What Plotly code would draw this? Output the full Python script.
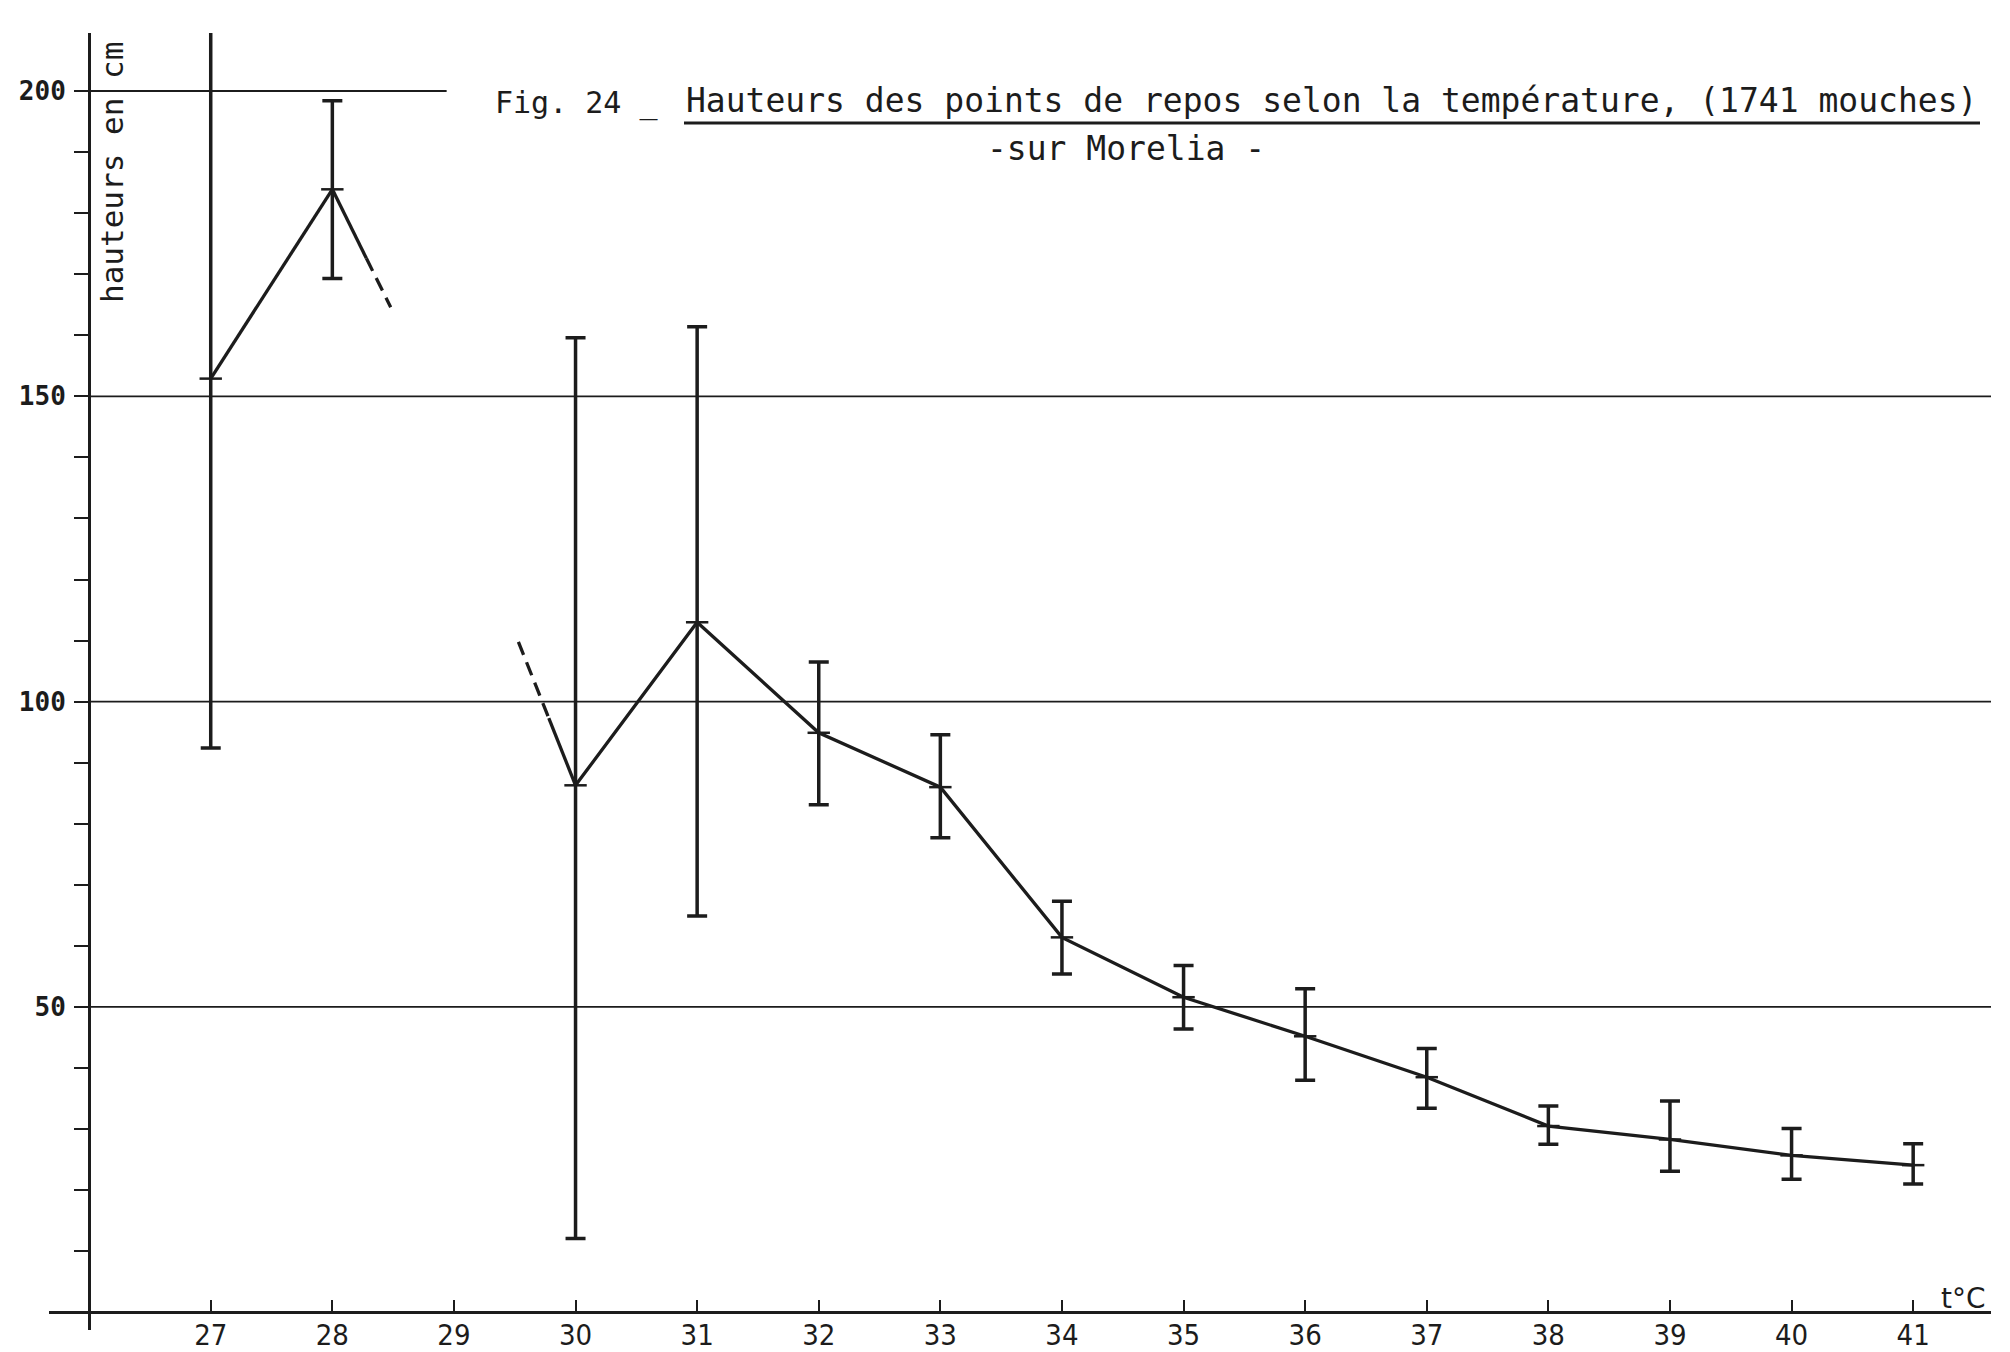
import plotly.graph_objects as go

# ---- data ----
temps = [27, 28, 30, 31, 32, 33, 34, 35, 36, 37, 38, 39, 40, 41]
means = [152.9, 183.9, 86.3, 113.0, 94.9, 86.0, 61.4, 51.6, 45.2, 38.5, 30.5, 28.3, 25.7, 24.1]
err_top = [212.4, 198.4, 159.6, 161.4, 106.5, 94.6, 67.3, 56.8, 53.0, 43.2, 33.8, 34.6, 30.1, 27.6]
err_bottom = [92.4, 169.3, 12.1, 64.9, 83.1, 77.7, 55.4, 46.4, 38.0, 33.4, 27.5, 23.1, 21.8, 21.0]

# interrupted trend stubs around the 29 °C gap
stub_left_x = [28, 28.28, 28.48]
stub_left_y = [183.9, 172.6, 164.6]
stub_right_x = [29.53, 29.78, 30]
stub_right_y = [109.8, 97.3, 86.3]

x_ticks = list(range(27, 42))
y_ticks = list(range(10, 201, 10))
y_labels = [str(v) if v % 50 == 0 else "" for v in y_ticks]
grid_full = [50, 100, 150]
grid_partial = [200]

INK = "#1c1c1c"
W, H = 2010, 1352

err_plus = [t - m for t, m in zip(err_top, means)]
err_minus = [m - b for m, b in zip(means, err_bottom)]

fig = go.Figure()

# error bars + mean ticks
fig.add_trace(go.Scatter(
    x=temps, y=means, mode="markers",
    marker=dict(symbol="line-ew", size=16, line=dict(width=2.5, color=INK), color=INK),
    error_y=dict(type="data", array=err_plus, arrayminus=err_minus,
                 color=INK, thickness=3.5, width=10),
    showlegend=False, hoverinfo="skip"))

LW = 3.3
# curve: first segment (27-28)
fig.add_trace(go.Scatter(x=temps[:2], y=means[:2], mode="lines",
                         line=dict(color=INK, width=LW), showlegend=False))
# curve: 30 -> 41
fig.add_trace(go.Scatter(x=temps[2:], y=means[2:], mode="lines",
                         line=dict(color=INK, width=LW), showlegend=False))
# stubs: solid part + dashed part
fig.add_trace(go.Scatter(x=stub_left_x[:2], y=stub_left_y[:2], mode="lines",
                         line=dict(color=INK, width=LW), showlegend=False))
fig.add_trace(go.Scatter(x=stub_left_x[1:], y=stub_left_y[1:], mode="lines",
                         line=dict(color=INK, width=LW, dash="14px,8px"), showlegend=False))
fig.add_trace(go.Scatter(x=stub_right_x[:2], y=stub_right_y[:2], mode="lines",
                         line=dict(color=INK, width=LW, dash="14px,8px"), showlegend=False))
fig.add_trace(go.Scatter(x=stub_right_x[1:], y=stub_right_y[1:], mode="lines",
                         line=dict(color=INK, width=LW), showlegend=False))

# horizontal reference lines
shapes = []
for g in grid_full:
    shapes.append(dict(type="line", xref="x", yref="y", x0=26, x1=41.64, y0=g, y1=g,
                       line=dict(color=INK, width=1.8), layer="below"))
for g in grid_partial:
    shapes.append(dict(type="line", xref="x", yref="y", x0=26, x1=28.94, y0=g, y1=g,
                       line=dict(color=INK, width=1.8), layer="below"))
# underline of the title
shapes.append(dict(type="line", xref="paper", yref="paper",
                   x0=684 / W, x1=1980 / W, y0=1 - 123 / H, y1=1 - 123 / H,
                   line=dict(color=INK, width=3)))

annotations = [
    dict(text="Fig. 24 _", xref="paper", yref="paper", x=493 / W, y=1 - 103 / H,
         xanchor="left", yanchor="middle", showarrow=False,
         font=dict(family="DejaVu Sans Mono", size=30, color=INK)),
    dict(text="Hauteurs des points de repos selon la température, (1741 mouches)",
         xref="paper", yref="paper", x=684 / W, y=1 - 101 / H,
         xanchor="left", yanchor="middle", showarrow=False,
         font=dict(family="DejaVu Sans Mono", size=33, color=INK)),
    dict(text="-sur Morelia -", xref="paper", yref="paper", x=1126 / W, y=1 - 148 / H,
         xanchor="center", yanchor="middle", showarrow=False,
         font=dict(family="DejaVu Sans Mono", size=33, color=INK)),
    dict(text="hauteurs en cm", xref="paper", yref="paper", x=112 / W, y=1 - 173 / H,
         xanchor="center", yanchor="middle", showarrow=False, textangle=-90,
         font=dict(family="DejaVu Sans Mono", size=31, color=INK)),
    dict(text="t°C", xref="paper", yref="paper", x=1963 / W, y=1 - 1298 / H,
         xanchor="center", yanchor="middle", showarrow=False,
         font=dict(family="DejaVu Sans", size=28, color=INK)),
]

fig.update_layout(
    width=W, height=H,
    margin=dict(l=0, r=0, t=0, b=0),
    paper_bgcolor="white", plot_bgcolor="white",
    shapes=shapes, annotations=annotations,
    xaxis=dict(
        range=[25.67, 41.64], domain=[49 / W, 1991 / W],
        anchor="free", position=1 - 1312 / H,
        showline=True, linecolor=INK, linewidth=3,
        ticks="inside", ticklen=11, tickwidth=2, tickcolor=INK,
        tickvals=x_ticks, ticktext=[str(v) for v in x_ticks],
        tickfont=dict(family="DejaVu Sans Condensed", size=29, color=INK),
        ticklabelstandoff=-4,
        showgrid=False, zeroline=False,
    ),
    yaxis=dict(
        range=[-2.9, 209.5], domain=[1 - 1330 / H, 1 - 33 / H],
        anchor="free", position=89 / W,
        showline=True, linecolor=INK, linewidth=3,
        ticks="outside", ticklen=14, tickwidth=2, tickcolor=INK,
        tickvals=y_ticks, ticktext=y_labels,
        tickfont=dict(family="DejaVu Sans Mono", size=26, color=INK, weight="bold"),
        ticklabelstandoff=3,
        showgrid=False, zeroline=False,
    ),
)

fig.write_html("out.html",
               config={"displayModeBar": False},
               post_script="document.body.style.margin='0';document.body.style.overflow='hidden';")
